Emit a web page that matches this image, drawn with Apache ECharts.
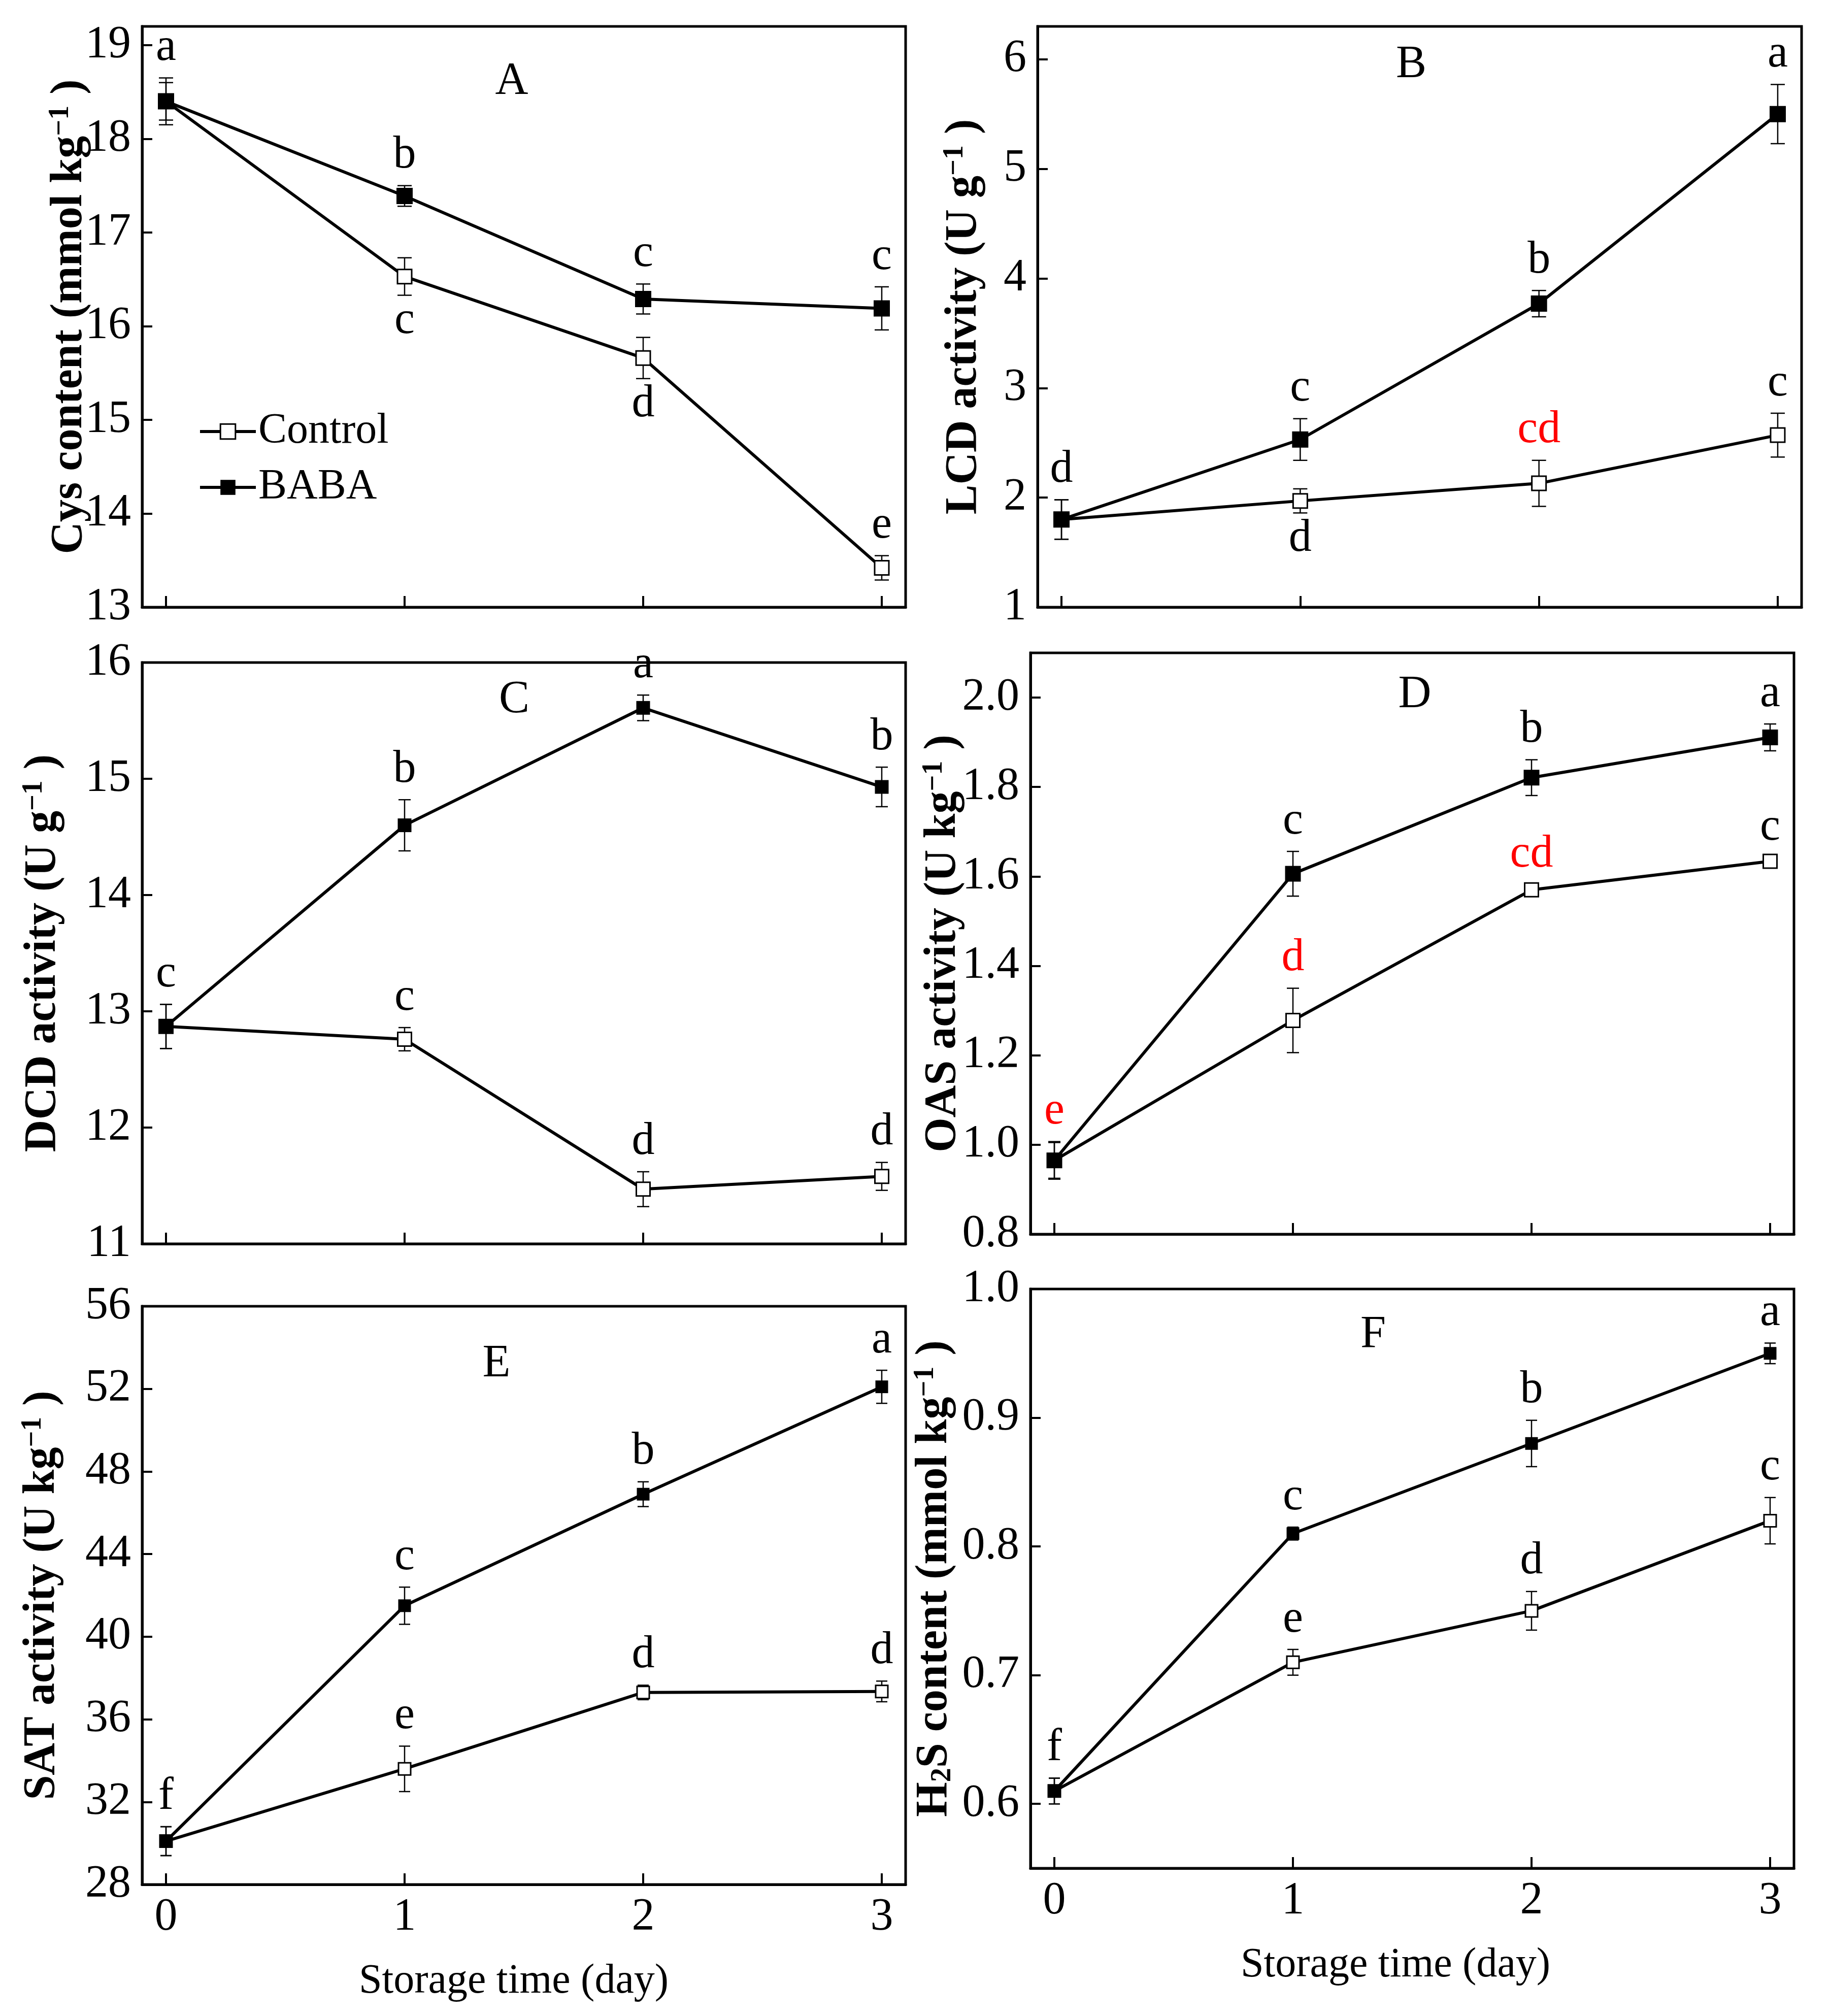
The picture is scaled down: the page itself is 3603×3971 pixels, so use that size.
<!DOCTYPE html>
<html>
<head>
<meta charset="utf-8">
<title>Storage time panels</title>
<script src="https://cdn.jsdelivr.net/npm/echarts@6.0.0/dist/echarts.min.js"></script>
<style>
  html, body { margin: 0; padding: 0; background: #fff; }
  #chart { width: 3603px; height: 3971px; }
</style>
</head>
<body>
<div id="chart"></div>
<script>
const FONT = '"Liberation Serif", "Times New Roman", serif';
const FS = 90;

const days = [0, 1, 2, 3];

// A - Cys content
const cysControl = [18.4, 16.53, 15.66, 13.42];
const cysControlErr = [0.2, 0.2, 0.22, 0.13];
const cysBaba = [18.4, 17.39, 16.29, 16.19];
const cysBabaErr = [0.25, 0.11, 0.16, 0.23];
const cysControlLetters = ['', 'c', 'd', 'e'];
const cysBabaLetters = ['a', 'b', 'c', 'c'];
const cysTicks = [13, 14, 15, 16, 17, 18, 19];

// B - LCD activity
const lcdControl = [1.8, 1.97, 2.13, 2.57];
const lcdControlErr = [0.18, 0.11, 0.21, 0.2];
const lcdBaba = [1.8, 2.53, 3.77, 5.5];
const lcdBabaErr = [0.18, 0.19, 0.12, 0.27];
const lcdControlLetters = ['', 'd', 'cd', 'c'];
const lcdBabaLetters = ['d', 'c', 'b', 'a'];
const lcdTicks = [1, 2, 3, 4, 5, 6];

// C - DCD activity
const dcdControl = [12.87, 12.76, 11.47, 11.58];
const dcdControlErr = [0.19, 0.1, 0.15, 0.12];
const dcdBaba = [12.87, 14.6, 15.61, 14.93];
const dcdBabaErr = [0.19, 0.22, 0.11, 0.17];
const dcdControlLetters = ['', 'c', 'd', 'd'];
const dcdBabaLetters = ['c', 'b', 'a', 'b'];
const dcdTicks = [11, 12, 13, 14, 15, 16];

// D - OAS activity
const oasControl = [0.965, 1.278, 1.57, 1.634];
const oasControlErr = [0.04, 0.072, 0.012, 0.008];
const oasBaba = [0.965, 1.606, 1.821, 1.911];
const oasBabaErr = [0.042, 0.05, 0.04, 0.03];
const oasControlLetters = ['', 'd', 'cd', 'c'];
const oasBabaLetters = ['e', 'c', 'b', 'a'];
const oasTicks = [0.8, 1.0, 1.2, 1.4, 1.6, 1.8, 2.0];

// E - SAT activity
const satControl = [30.1, 33.6, 37.3, 37.35];
const satControlErr = [0.7, 1.1, 0.35, 0.5];
const satBaba = [30.1, 41.5, 46.9, 52.1];
const satBabaErr = [0.7, 0.9, 0.6, 0.8];
const satControlLetters = ['', 'e', 'd', 'd'];
const satBabaLetters = ['f', 'c', 'b', 'a'];
const satTicks = [28, 32, 36, 40, 44, 48, 52, 56];

// F - H2S content
const h2sControl = [0.61, 0.71, 0.75, 0.82];
const h2sControlErr = [0.01, 0.01, 0.015, 0.018];
const h2sBaba = [0.61, 0.81, 0.88, 0.95];
const h2sBabaErr = [0.01, 0.005, 0.018, 0.008];
const h2sControlLetters = ['', 'e', 'd', 'c'];
const h2sBabaLetters = ['f', 'c', 'b', 'a'];
const h2sTicks = [0.6, 0.7, 0.8, 0.9, 1.0];

// layout + styling for each panel
const panels = [
  { key: 'A', grid: { left: 280, top: 52, width: 1504, height: 1144 }, min: 13, max: 19.2, ticks: cysTicks, dec: 0,
    name: 'Cys content (mmol kg{sup|−1} )', nameGap: 98, keyPos: [1008, 161],
    control: cysControl, controlErr: cysControlErr, baba: cysBaba, babaErr: cysBabaErr,
    controlLetters: cysControlLetters, babaLetters: cysBabaLetters,
    controlBelow: [1, 2], red: [], size: 32, openSize: 28, cap: 14, xLabels: false, xPad: 0 },
  { key: 'B', grid: { left: 2044, top: 52, width: 1505, height: 1144 }, min: 1, max: 6.3, ticks: lcdTicks, dec: 0,
    name: 'LCD activity (U g{sup|−1} )', nameGap: 100, keyPos: [2780, 128],
    control: lcdControl, controlErr: lcdControlErr, baba: lcdBaba, babaErr: lcdBabaErr,
    controlLetters: lcdControlLetters, babaLetters: lcdBabaLetters,
    controlBelow: [1], red: [2], size: 32, openSize: 28, cap: 14, xLabels: false, xPad: 0 },
  { key: 'C', grid: { left: 280, top: 1305, width: 1504, height: 1145 }, min: 11, max: 16, ticks: dcdTicks, dec: 0,
    name: 'DCD activity (U g{sup|−1} )', nameGap: 150, keyPos: [1013, 1379],
    control: dcdControl, controlErr: dcdControlErr, baba: dcdBaba, babaErr: dcdBabaErr,
    controlLetters: dcdControlLetters, babaLetters: dcdBabaLetters,
    controlBelow: [], red: [], size: 27, openSize: 27, cap: 12, xLabels: false, xPad: 0 },
  { key: 'D', grid: { left: 2030, top: 1286, width: 1504, height: 1145 }, min: 0.8, max: 2.1, ticks: oasTicks, dec: 1,
    name: 'OAS activity (U kg{sup|−1} )', nameGap: 127, keyPos: [2787, 1369],
    control: oasControl, controlErr: oasControlErr, baba: oasBaba, babaErr: oasBabaErr,
    controlLetters: oasControlLetters, babaLetters: oasBabaLetters,
    controlBelow: [], red: [1, 2], redBaba: [0], size: 31, openSize: 27, cap: 12, xLabels: false, xPad: 0 },
  { key: 'E', grid: { left: 280, top: 2573, width: 1504, height: 1139 }, min: 28, max: 56, ticks: satTicks, dec: 0,
    name: 'SAT activity (U kg{sup|−1} )', nameGap: 152, keyPos: [978, 2687],
    control: satControl, controlErr: satControlErr, baba: satBaba, babaErr: satBabaErr,
    controlLetters: satControlLetters, babaLetters: satBabaLetters,
    controlBelow: [], red: [], size: 25, openSize: 24, cap: 11, xLabels: true, xPad: 40 },
  { key: 'F', grid: { left: 2030, top: 2539, width: 1504, height: 1141 }, min: 0.55, max: 1.0, ticks: h2sTicks, dec: 1,
    name: 'H{sub|2}S content (mmol kg{sup|−1} )', nameGap: 144, keyPos: [2705, 2630],
    control: h2sControl, controlErr: h2sControlErr, baba: h2sBaba, babaErr: h2sBabaErr,
    controlLetters: h2sControlLetters, babaLetters: h2sBabaLetters,
    controlBelow: [], red: [], size: 25, openSize: 24, cap: 11, xLabels: true, xPad: 66 },
];

function errorSeries(i, vals, errs, letters, below, red, cap, z) {
  return {
    type: 'custom',
    xAxisIndex: i,
    yAxisIndex: i,
    z: z,
    clip: false,
    silent: true,
    data: days.map((d, k) => [d, vals[k], errs[k], k]),
    renderItem(params, api) {
      const x = api.value(0), y = api.value(1), e = api.value(2), k = api.value(3);
      const top = api.coord([x, y + e]);
      const bot = api.coord([x, y - e]);
      const st = { stroke: '#000', lineWidth: 2.5 };
      const children = [
        { type: 'line', shape: { x1: top[0], y1: top[1], x2: bot[0], y2: bot[1] }, style: st },
        { type: 'line', shape: { x1: top[0] - cap, y1: top[1], x2: top[0] + cap, y2: top[1] }, style: st },
        { type: 'line', shape: { x1: bot[0] - cap, y1: bot[1], x2: bot[0] + cap, y2: bot[1] }, style: st },
      ];
      const txt = letters[k];
      if (txt) {
        const isBelow = below.includes(k);
        children.push({
          type: 'text',
          x: top[0],
          y: isBelow ? bot[1] + 6 : top[1] - 14,
          style: {
            text: txt,
            fill: red.includes(k) ? '#ff0000' : '#000',
            font: FS + 'px ' + FONT,
            align: 'center',
            verticalAlign: isBelow ? 'top' : 'bottom',
          },
        });
      }
      return { type: 'group', children };
    },
  };
}

const grids = [], xAxes = [], yAxes = [], series = [];

panels.forEach((p, i) => {
  grids.push(Object.assign({ show: true, borderColor: '#000', borderWidth: 5, backgroundColor: 'transparent' }, p.grid));

  xAxes.push({
    gridIndex: i,
    type: 'value',
    min: -0.1,
    max: 3.1,
    axisLine: { onZero: false, lineStyle: { color: '#000', width: 5 } },
    axisTick: { inside: true, length: 22, customValues: days, lineStyle: { color: '#000', width: 4 } },
    axisLabel: { show: p.xLabels, customValues: days, color: '#000', fontFamily: FONT, fontSize: FS, margin: 20 },
    splitLine: { show: false },
    name: p.xLabels ? 'Storage time (day)' : '',
    nameLocation: 'middle',
    nameGap: 150,
    nameMoveOverlap: false,
    nameTextStyle: { color: '#000', fontFamily: FONT, fontSize: 82, padding: [0, p.xPad, 0, 0] },
  });

  yAxes.push({
    gridIndex: i,
    type: 'value',
    min: p.min,
    max: p.max,
    axisLine: { onZero: false, lineStyle: { color: '#000', width: 5 } },
    axisTick: { inside: true, length: 20, customValues: p.ticks, lineStyle: { color: '#000', width: 4 } },
    axisLabel: {
      customValues: p.ticks,
      formatter: (v) => Number(v).toFixed(p.dec),
      color: '#000', fontFamily: FONT, fontSize: FS, margin: 22,
    },
    splitLine: { show: false },
    name: p.name,
    nameLocation: 'middle',
    nameGap: p.nameGap,
    nameMoveOverlap: false,
    nameTextStyle: {
      color: '#000', fontFamily: FONT, fontSize: 88, fontWeight: 'bold', lineHeight: 90,
      rich: {
        sup: { fontFamily: FONT, fontSize: 56, color: '#000', verticalAlign: 'top', lineHeight: 56 },
        sub: { fontFamily: FONT, fontSize: 56, fontWeight: 'bold', color: '#000', verticalAlign: 'bottom', lineHeight: 56 },
      },
    },
  });

  series.push(errorSeries(i, p.control, p.controlErr, p.controlLetters, p.controlBelow, p.red, p.cap, 1));
  series.push(errorSeries(i, p.baba, p.babaErr, p.babaLetters, [], p.redBaba || [], p.cap, 2));

  series.push({
    type: 'line',
    name: 'Control',
    xAxisIndex: i,
    yAxisIndex: i,
    data: days.map((d, k) => [d, p.control[k]]),
    symbol: 'rect',
    symbolSize: p.openSize,
    itemStyle: { color: '#fff', borderColor: '#000', borderWidth: 3 },
    lineStyle: { color: '#000', width: 6 },
    z: 3,
  });
  series.push({
    type: 'line',
    name: 'BABA',
    xAxisIndex: i,
    yAxisIndex: i,
    data: days.map((d, k) => [d, p.baba[k]]),
    symbol: 'rect',
    symbolSize: p.size,
    itemStyle: { color: '#000' },
    lineStyle: { color: '#000', width: 6 },
    z: 4,
  });
});

const chart = echarts.init(document.getElementById('chart'), null, { renderer: 'canvas' });
chart.setOption({
  animation: false,
  backgroundColor: '#fff',
  grid: grids,
  xAxis: xAxes,
  yAxis: yAxes,
  series: series,
  legend: {
    data: ['Control', 'BABA'],
    orient: 'vertical',
    left: 386,
    top: 803,
    itemWidth: 110,
    itemHeight: 37,
    itemGap: 26,
    selectedMode: false,
    textStyle: { color: '#000', fontFamily: FONT, fontSize: 84 },
    lineStyle: { width: 6 },
    itemStyle: { borderWidth: 'inherit' },
  },
  graphic: panels.map((p) => ({
    type: 'text',
    x: p.keyPos[0],
    y: p.keyPos[1],
    style: {
      text: p.key,
      font: FS + 'px ' + FONT,
      fill: '#000',
      align: 'center',
      verticalAlign: 'middle',
      textAlign: 'center',
      textVerticalAlign: 'middle',
    },
  })),
});
</script>
</body>
</html>
